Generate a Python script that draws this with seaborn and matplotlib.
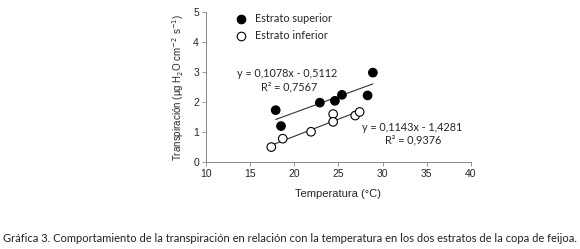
import numpy as np
import pandas as pd
import seaborn as sns
import matplotlib.pyplot as plt

# data
temp_sup = [17.9, 18.5, 22.9, 24.6, 25.4, 28.3, 28.9]
transp_sup = [1.73, 1.20, 1.98, 2.04, 2.24, 2.22, 2.98]
temp_inf = [17.4, 18.7, 21.9, 24.4, 24.4, 26.9, 27.4]
transp_inf = [0.50, 0.78, 1.01, 1.60, 1.34, 1.55, 1.67]
fit_sup = (0.1078, -0.5112)
fit_inf = (0.1143, -1.4281)
labels = ['Estrato superior', 'Estrato inferior']

sns.set_style('ticks')
plt.rcParams['font.family'] = ['Liberation Sans', 'DejaVu Sans']

df = pd.DataFrame({
    'temp': temp_sup + temp_inf,
    'transp': transp_sup + transp_inf,
    'estrato': [labels[0]] * len(temp_sup) + [labels[1]] * len(temp_inf),
})

fig = plt.figure(figsize=(5.8, 2.49), dpi=100)
ax = fig.add_axes([0.355, 0.349, 0.457, 0.603])

# trend lines
for xs, (m, b) in [(temp_sup, fit_sup), (temp_inf, fit_inf)]:
    xx = np.array([min(xs), max(xs)])
    ax.plot(xx, m * xx + b, color='#333333', lw=0.8, zorder=1)

sns.scatterplot(data=df, x='temp', y='transp', hue='estrato',
                palette={labels[0]: 'black', labels[1]: 'white'},
                edgecolor='black', linewidth=0.8, s=38, ax=ax, zorder=3)

ax.set_xlim(10, 40)
ax.set_ylim(0, 5)
ax.set_xticks(range(10, 41, 5))
ax.set_yticks(range(0, 6))
ax.tick_params(labelsize=7.5, length=3, width=0.6, color='#888888', pad=2)
for s in ['left', 'bottom']:
    ax.spines[s].set_color('#888888')
    ax.spines[s].set_linewidth(0.7)
sns.despine(ax=ax)
ax.set_xlabel('Temperatura (°C)', fontsize=8, labelpad=7)
ax.set_ylabel('Transpiración (µg H$_2$O cm$^{-2}$ s$^{-1}$)', fontsize=7.0,
              labelpad=5)

leg = ax.legend(loc='upper left', frameon=False,
                prop={'family': 'Lato', 'size': 7.8},
                bbox_to_anchor=(0.055, 1.055), handletextpad=0.25,
                labelspacing=0.55, title=None)
for h in leg.legend_handles:
    if hasattr(h, 'set_markeredgecolor'):
        h.set_markeredgecolor('black')
    else:
        h.set_edgecolor('black')

eq_font = {'family': 'Lato', 'size': 7.8}
ax.text(19.2, 2.85, 'y = 0,1078x - 0,5112', ha='center', fontdict=eq_font)
ax.text(19.4, 2.4, 'R² = 0,7567', ha='center', fontdict=eq_font)
ax.text(33.3, 1.05, 'y = 0,1143x - 1,4281', ha='center', fontdict=eq_font)
ax.text(33.5, 0.63, 'R² = 0,9376', ha='center', fontdict=eq_font)

fig.text(0.006, 0.03, 'Gráfica 3. Comportamiento de la transpiración en relación con la temperatura '
         'en los dos estratos de la copa de feijoa.', fontsize=8.0, family='Lato',
         color='#222222')

fig.savefig('out.png', dpi=100)
